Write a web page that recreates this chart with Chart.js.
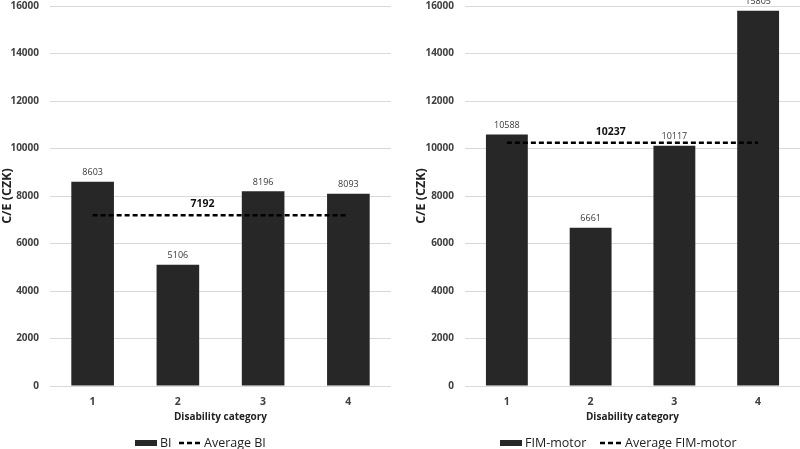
<!DOCTYPE html>
<html><head><meta charset="utf-8">
<script src="https://cdn.jsdelivr.net/npm/chart.js@4.4.0/dist/chart.umd.min.js"></script>
<style>
html,body{margin:0;padding:0;background:#fff;}
#wrap{position:relative;width:800px;height:449px;overflow:hidden;background:#fff;}
#c1{position:absolute;left:0;top:0;}
#c2{position:absolute;left:410px;top:0;}
</style></head><body>
<div id="wrap">
<canvas id="c1" width="395" height="449"></canvas>
<canvas id="c2" width="390" height="449"></canvas>
</div>
<script>
// ---- data ----
const categories = ['1', '2', '3', '4'];
const biValues = [8603, 5106, 8196, 8093];
const biAverage = [7192, 7192, 7192, 7192];
const fimValues = [10588, 6661, 10117, 15805];
const fimAverage = [10237, 10237, 10237, 10237];
const yMin = 0, yMax = 16000, yStep = 2000;
const seriesNames = { bi: 'BI', biAvg: 'Average BI', fim: 'FIM-motor', fimAvg: 'Average FIM-motor' };
const yTitle = 'C/E (CZK)';
const xTitle = 'Disability category';

const FONT = "'Open Sans', 'DejaVu Sans', sans-serif";
const BAR = '#272727';
const TXT = '#404040';

const extras = {
  id: 'extras',
  afterDatasetsDraw(chart, args, o) {
    const ctx = chart.ctx;
    const bars = chart.getDatasetMeta(0).data;
    const vals = chart.data.datasets[0].data;
    ctx.save();
    // value labels
    ctx.font = '9px ' + FONT;
    ctx.fillStyle = '#383838';
    ctx.textAlign = 'center';
    ctx.textBaseline = 'middle';
    bars.forEach((b, i) => ctx.fillText(String(vals[i]), b.x, b.y - 9));
    // average label
    const avg = chart.data.datasets[1].data[0];
    const xs = chart.scales.x, ys = chart.scales.y;
    ctx.font = 'bold 10.5px ' + FONT;
    ctx.fillStyle = '#111';
    ctx.fillText(String(avg), xs.getPixelForValue(o.avgAt), ys.getPixelForValue(avg) - 11);
    // legend
    const ly = 443;
    ctx.font = '12.5px ' + FONT;
    ctx.textAlign = 'left';
    ctx.fillStyle = BAR;
    ctx.fillRect(o.legend[0], ly - 3, 22, 6);
    ctx.fillStyle = '#222';
    ctx.fillText(chart.data.datasets[0].label, o.legend[0] + 25, ly);
    ctx.strokeStyle = '#000';
    ctx.lineWidth = 2.5;
    ctx.setLineDash([5, 3]);
    ctx.beginPath();
    ctx.moveTo(o.legend[1], ly);
    ctx.lineTo(o.legend[1] + 23, ly);
    ctx.stroke();
    ctx.setLineDash([]);
    ctx.fillText(chart.data.datasets[1].label, o.legend[1] + 25, ly);
    ctx.restore();
  }
};

function makeChart(id, values, avg, nameBar, nameAvg, cfg) {
  return new Chart(document.getElementById(id), {
    type: 'bar',
    data: {
      labels: categories,
      datasets: [
        { type: 'bar', label: nameBar, data: values, backgroundColor: BAR, borderWidth: 0,
          categoryPercentage: 1, barPercentage: 0.5, order: 2 },
        { type: 'line', label: nameAvg, data: avg, borderColor: '#000', borderWidth: 2.5,
          borderDash: [5, 3], pointRadius: 0, fill: false, order: 1 }
      ]
    },
    plugins: [extras],
    options: {
      responsive: false,
      animation: false,
      layout: { padding: { top: 0, right: cfg.padRight, bottom: 20, left: 0 } },
      plugins: {
        legend: { display: false },
        tooltip: { enabled: false },
        extras: { avgAt: cfg.avgAt, legend: cfg.legend }
      },
      scales: {
        x: {
          grid: { display: false },
          border: { display: false },
          ticks: { font: { family: FONT, size: 10.5, weight: 'bold' }, color: TXT, padding: 2 },
          title: { display: true, text: xTitle, font: { family: FONT, size: 10, weight: 'bold' },
                   color: '#222', padding: { top: 0, bottom: 6 } },
          afterFit(s) { s.height = 43; }
        },
        y: {
          min: yMin, max: yMax,
          grid: { color: '#d9d9d9', lineWidth: 1, drawTicks: false },
          border: { display: false },
          ticks: { stepSize: yStep, callback: v => String(v),
                   font: { family: FONT, size: 10, weight: 'bold' }, color: TXT, padding: 11 },
          title: { display: true, text: yTitle, font: { family: FONT, size: 12.5, weight: 'bold' },
                   color: '#222', padding: { top: cfg.titlePad, bottom: 0 } },
          afterFit(s) { s.width = cfg.yWidth; s.paddingTop = 6; s.paddingBottom = 0; }
        }
      }
    }
  });
}

makeChart('c1', biValues, biAverage, seriesNames.bi, seriesNames.biAvg,
  { padRight: 4, yWidth: 50, titlePad: 0, avgAt: 1.29, legend: [135, 179] });
makeChart('c2', fimValues, fimAverage, seriesNames.fim, seriesNames.fimAvg,
  { padRight: 0, yWidth: 55, titlePad: 3.5, avgAt: 1.24, legend: [90, 190] });
</script>
</body></html>
